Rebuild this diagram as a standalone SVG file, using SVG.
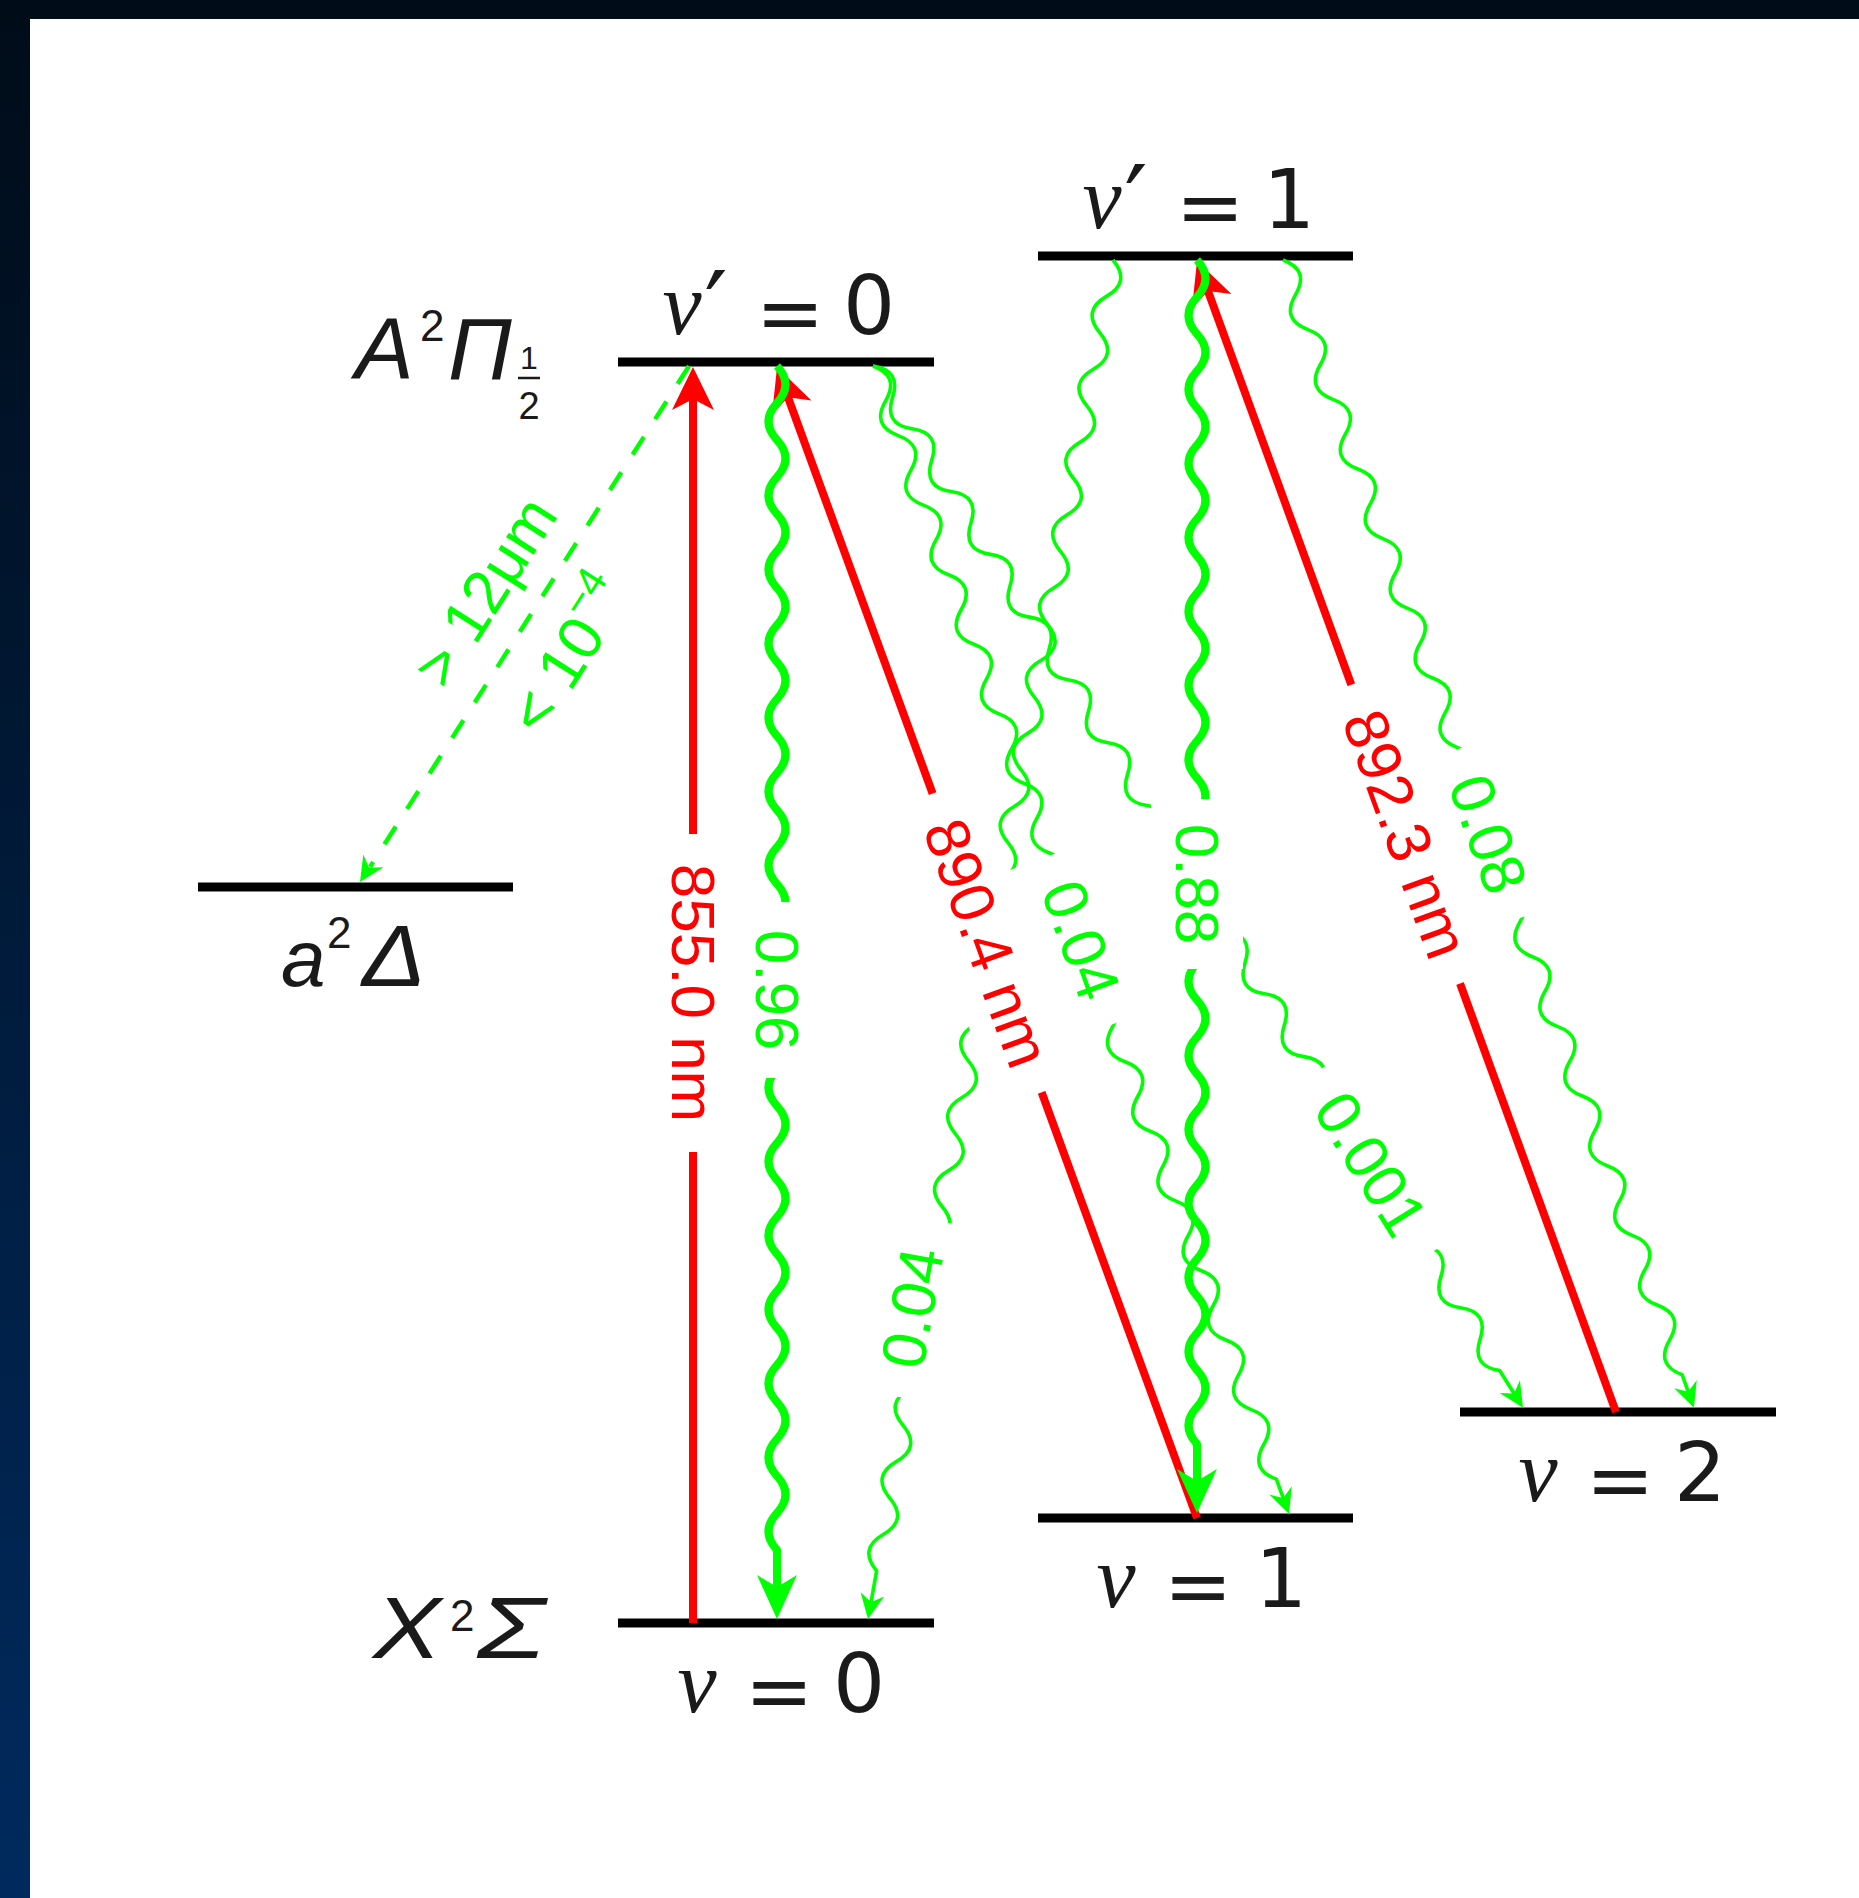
<svg xmlns="http://www.w3.org/2000/svg" width="1859" height="1898" viewBox="0 0 1859 1898">
<defs>
<linearGradient id="side" x1="0" y1="0" x2="0" y2="1"><stop offset="0" stop-color="#000c18"/><stop offset="1" stop-color="#002a5e"/></linearGradient>
<path id="hR" d="M0,0 L-21,43 L0,32 L21,43 Z" fill="#ff0000"/>
<path id="hGt" d="M0,0 L-20,44 L0,32 L20,44 Z" fill="#00ff00"/>
<path id="hGs" d="M0,0 L-12,25 L0,17 L12,25 Z" fill="#00ff00"/>
<path id="wThick" d="M0,0q18.5,-17 37,0t37,0 37,0 37,0 37,0 37,0 37,0 37,0 37,0 37,0 37,0 37,0 37,0 37,0 37,0 37,0 37,0 37,0 37,0 37,0 37,0 37,0 37,0 37,0 37,0 37,0 37,0 37,0 37,0 37,0 37,0 37,0L1221,0"/>
</defs>
<style>
.lvl{stroke:#000;stroke-width:9}
.red{stroke:#ff0000;stroke-width:8;fill:none}
.gk{stroke:#00ff00;stroke-width:8;fill:none;stroke-linejoin:round}
.gn{stroke:#00ff00;stroke-width:3.6;fill:none;stroke-linejoin:round}
.gd{stroke:#00ff00;stroke-width:4.5;stroke-dasharray:21 21;fill:none}
.st{font-family:"Liberation Sans",Arial,sans-serif;font-style:italic;fill:#1a1a1a}
.sup{font-family:"Liberation Sans",Arial,sans-serif;fill:#1a1a1a;font-size:44px}
.nu{font-family:"Liberation Serif","Times New Roman",serif;font-style:italic;fill:#1a1a1a;font-size:88px;text-anchor:middle}
.pr{font-family:"DejaVu Sans",sans-serif;fill:#1a1a1a;font-size:104px;text-anchor:middle}
.num{font-family:"DejaVu Sans",sans-serif;fill:#1a1a1a;font-size:82px;text-anchor:middle}
.lab{font-family:"Liberation Sans",Arial,sans-serif;font-size:62px;text-anchor:middle;dominant-baseline:central}
.lr{fill:#ff0000}
.lg{fill:#00ff00}
.bg{fill:#ffffff}
</style>
<g id="frame">
<rect x="0" y="0" width="1859" height="1898" fill="#ffffff"/>
<rect x="0" y="0" width="1859" height="19" fill="#000c18"/>
<rect x="0" y="0" width="30" height="1898" fill="url(#side)"/>
</g>
<g id="state-A">
<text class="st" x="355" y="379" font-size="88">A</text>
<text class="sup" x="420" y="341">2</text>
<text class="st" x="448" y="379" font-size="88">Π</text>
<text class="sup" x="529" y="369" text-anchor="middle" style="font-size:32px">1</text>
<line x1="518" y1="378" x2="540" y2="378" stroke="#1a1a1a" stroke-width="2.5"/>
<text class="sup" x="529" y="419" text-anchor="middle" style="font-size:38px">2</text>
</g>
<g id="state-a">
<line class="lvl" x1="198" y1="887" x2="513" y2="887"/>
<text class="st" x="281" y="986" font-size="80">a</text>
<text class="sup" x="327" y="948">2</text>
<text class="st" x="362" y="986" font-size="88" textLength="64" lengthAdjust="spacingAndGlyphs">Δ</text>
</g>
<g id="state-X">
<text class="st" x="373" y="1658" font-size="88" textLength="68" lengthAdjust="spacingAndGlyphs">X</text>
<text class="sup" x="450" y="1631">2</text>
<text class="st" x="477" y="1658" font-size="88" textLength="68" lengthAdjust="spacingAndGlyphs">Σ</text>
</g>
<g id="A-v0">
<line class="lvl" x1="618" y1="362" x2="934" y2="362"/>
<text class="nu" x="682" y="334">ν</text><text class="pr" x="716" y="346">′</text>
<text class="num" x="790" y="341">=</text><text class="num" x="869" y="334">0</text>
</g>
<g id="A-v1">
<line class="lvl" x1="1038" y1="256" x2="1353" y2="256"/>
<text class="nu" x="1102" y="228">ν</text><text class="pr" x="1136" y="240">′</text>
<text class="num" x="1210" y="235">=</text><text class="num" x="1289" y="228">1</text>
</g>
<g id="X-v0">
<line class="lvl" x1="618" y1="1623" x2="934" y2="1623"/>
<text class="nu" x="697" y="1712">ν</text>
<text class="num" x="779" y="1719">=</text><text class="num" x="859" y="1712">0</text>
</g>
<g id="X-v1">
<line class="lvl" x1="1038" y1="1518" x2="1353" y2="1518"/>
<text class="nu" x="1116" y="1607">ν</text>
<text class="num" x="1198" y="1614">=</text><text class="num" x="1281" y="1607">1</text>
</g>
<g id="X-v2">
<line class="lvl" x1="1460" y1="1412" x2="1776" y2="1412"/>
<text class="nu" x="1538" y="1501">ν</text>
<text class="num" x="1620" y="1508">=</text><text class="num" x="1700" y="1501">2</text>
</g>
<g id="connectors">
<g id="pump-855" transform="translate(693,1623) rotate(-90)"><line class="red" x1="0" y1="0" x2="1226" y2="0"/><use href="#hR" transform="translate(1256,0) rotate(90)"/></g>
<g id="pump-890" transform="translate(1197,1518) rotate(-110.05)"><line class="red" x1="0" y1="0" x2="1195" y2="0"/><use href="#hR" transform="translate(1225,0) rotate(90)"/></g>
<g id="pump-892" transform="translate(1616,1412) rotate(-110)"><line class="red" x1="0" y1="0" x2="1195" y2="0"/><use href="#hR" transform="translate(1225,0) rotate(90)"/></g>
<g id="decay-096" transform="translate(777,366) rotate(90)"><use href="#wThick" class="gk"/><use href="#hGt" transform="translate(1253,0) rotate(90)"/></g>
<g id="decay-088" transform="translate(1197,260) rotate(90)"><use href="#wThick" class="gk"/><use href="#hGt" transform="translate(1253,0) rotate(90)"/></g>
<g id="decay-10" transform="translate(1113,260) rotate(100.22)"><path class="gn" d="M0,0q18.5,-22 37,0t37,0 37,0 37,0 37,0 37,0 37,0 37,0 37,0 37,0 37,0 37,0 37,0 37,0 37,0 37,0 37,0 37,0 37,0 37,0 37,0 37,0 37,0 37,0 37,0 37,0 37,0 37,0 37,0 37,0 37,0 37,0 37,0 37,0 37,0 37,0L1365,0"/><use href="#hGs" transform="translate(1381,0) rotate(90)"/></g>
<g id="decay-01" transform="translate(873,366) rotate(70.08)"><path class="gn" d="M0,0q18.5,-22 37,0t37,0 37,0 37,0 37,0 37,0 37,0 37,0 37,0 37,0 37,0 37,0 37,0 37,0 37,0 37,0 37,0 37,0 37,0 37,0 37,0 37,0 37,0 37,0 37,0 37,0 37,0 37,0 37,0 37,0 37,0 37,0L1205,0"/><use href="#hGs" transform="translate(1221,0) rotate(90)"/></g>
<g id="decay-02" transform="translate(873,366) rotate(58.04)"><path class="gn" d="M0,0q18.5,-22 37,0t37,0 37,0 37,0 37,0 37,0 37,0 37,0 37,0 37,0 37,0 37,0 37,0 37,0 37,0 37,0 37,0 37,0 37,0 37,0 37,0 37,0 37,0 37,0 37,0 37,0 37,0 37,0 37,0 37,0 37,0 37,0L1212,0"/><use href="#hGs" transform="translate(1228,0) rotate(90)"/></g>
<g id="decay-12" transform="translate(1283,260) rotate(70.30)"><path class="gn" d="M0,0q18.5,-22 37,0t37,0 37,0 37,0 37,0 37,0 37,0 37,0 37,0 37,0 37,0 37,0 37,0 37,0 37,0 37,0 37,0 37,0 37,0 37,0 37,0 37,0 37,0 37,0 37,0 37,0 37,0 37,0 37,0 37,0 37,0 37,0L1203,0"/><use href="#hGs" transform="translate(1219,0) rotate(90)"/></g>
<g id="decay-delta"><line class="gd" x1="689" y1="366" x2="370" y2="867"/><use href="#hGs" transform="translate(360,882) rotate(212.5)"/></g>
<g id="labels">
<g transform="translate(693,993) rotate(90)"><rect class="bg" x="-159" y="-46" width="318" height="92"/><text class="lab lr" x="0" y="0">855.0 nm</text></g>
<g transform="translate(777,990) rotate(90)"><rect class="bg" x="-88" y="-46" width="176" height="92"/><text class="lab lg" x="0" y="0">0.96</text></g>
<g transform="translate(1197,884) rotate(90)"><rect class="bg" x="-85" y="-46" width="170" height="92"/><text class="lab lg" x="0" y="0">0.88</text></g>
<g transform="translate(987,943) rotate(69.95)"><rect class="bg" x="-159" y="-46" width="318" height="92"/><text class="lab lr" x="0" y="0">890.4 nm</text></g>
<g transform="translate(1406,834) rotate(70)"><rect class="bg" x="-159" y="-44" width="318" height="88"/><text class="lab lr" x="0" y="0">892.3 nm</text></g>
<g transform="translate(1081,940) rotate(70.08)"><rect class="bg" x="-90" y="-46" width="180" height="92"/><text class="lab lg" x="0" y="0">0.04</text></g>
<g transform="translate(1371,1164) rotate(58.04)"><rect class="bg" x="-107" y="-46" width="214" height="92"/><text class="lab lg" x="0" y="0">0.001</text></g>
<g transform="translate(1488,834) rotate(70.3)"><rect class="bg" x="-90" y="-44" width="180" height="88"/><text class="lab lg" x="0" y="0">0.08</text></g>
<g transform="translate(924,1310) rotate(-79.78)"><rect class="bg" x="-90" y="-46" width="180" height="92"/><text class="lab lg" x="0" y="-12">0.04</text></g>
<g transform="translate(689,366) rotate(-57.5)"><text class="lab lg" x="-300" y="-51">&gt; 12μm</text><text class="lab lg" x="-308" y="54">&lt; 10<tspan dy="-22" font-size="42">−4</tspan></text></g>
</g>
</g>
</svg>
